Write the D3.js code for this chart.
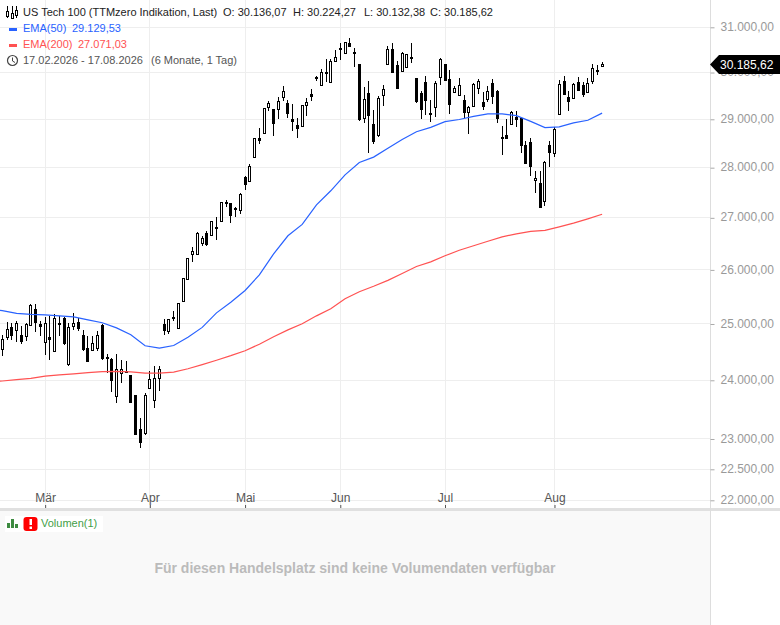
<!DOCTYPE html>
<html>
<head>
<meta charset="utf-8">
<script src="https://cdn.jsdelivr.net/npm/d3@7"></script>
<style>
  html, body { margin: 0; padding: 0; background: #fff; overflow: hidden; }
  svg { display: block; font-family: "Liberation Sans", Arial, sans-serif; }
</style>
</head>
<body>
<div id="chart"></div>
<script>
var opens = [24550,24757,24941,24882,24787,24775,24976,25271,24982,24674,24763,24509,25012,25099,24272,24953,25018,24787,24568,24526,24556,24970,24408,24372,23722,24124,24159,24077,23744,23165,23086,23864,23653,24030,24982,24870,25117,24923,
  25413,25815,26301,26301,26493,26691,26666,26819,26928,27299,27273,27193,27140,27808,27729,
  28206,28592,28710,29250,29214,29214,29463,29342,28986,28876,28848,29292,29535,29898,29720,30004,29791,30239,30520,30424,30645,30446,30166,29021,29556,28896,28661,29506,30181,30512,30158,30018,30107,30335,29877,29556,29791,
  29128,29257,29891,30166,29856,29570,29506,29392,29143,29271,29656,29364,29414,29770,29592,28627,28655,28890,29028,29021,28448,28524,27738,27672,27319,28462,28282,29107,29813,29471,29435,29791,29713,29570,29806,30048,30136.07];
var highs = [24805,25043,25012,25062,24964,25012,25360,25370,25062,25136,25148,25185,25148,25136,25012,25197,25105,24893,24787,24775,24882,25000,24467,24390,24467,24349,24331,24095,23750,23352,23778,24154,24243,24254,25086,25099,25228,25383,
  25850,26224,26435,26723,26640,26742,26934,27007,27306,27352,27273,27219,27485,27834,28070,
  28606,28813,29221,29378,29214,29470,29699,29399,29328,29021,29299,29449,29642,29925,30070,30291,30291,30483,30645,30660,30755,30534,30181,29684,29806,29200,29499,29735,30593,30645,30262,30446,30387,30645,29877,29606,29927,
  29414,29806,30313,30188,30055,29699,29877,29520,29285,29770,29870,29578,29699,29856,29620,28861,29007,29185,29185,29021,28551,28606,27938,27938,28145,28537,28834,29841,29927,29592,29770,29898,29784,29877,30180,30166,30224.27];
var lows = [24420,24716,24704,24668,24639,24686,24970,24864,24775,24449,24349,24500,24787,24615,24242,24893,24882,24509,24331,24509,24509,24360,24124,23790,23608,23949,24124,23608,23070,22858,23068,23847,23523,23807,24793,24822,25062,24923,
  25410,25802,26141,26295,26448,26448,26660,26576,26920,27206,26904,27020,27073,27541,27720,
  28200,28489,28710,29185,28655,29014,29378,29036,28745,28599,28840,29071,29392,29827,29699,29784,29785,30225,30276,30420,30556,30129,28971,28930,28296,28489,28627,29271,30175,29998,29642,30010,30092,30217,29342,29000,29093,
  28945,29057,29734,29827,29114,29565,29500,29021,28696,29265,29542,29200,29357,29328,28917,28262,28600,28890,28847,28296,28076,27834,27499,27200,27239,28021,28227,29100,29521,29185,29428,29613,29471,29565,29756,29954,30132.38];
var closes = [24716,24905,24793,25012,24686,24982,25346,25031,24959,25000,24722,25105,24994,24645,24941,25000,24911,24538,24331,24645,24799,24378,24384,23994,24195,24195,24136,23619,23074,22949,23744,24018,24036,24195,24882,25086,25093,25383,
  25845,26211,26346,26691,26608,26486,26934,26794,27306,27286,27040,27166,27465,27661,28020,
  28606,28565,29221,29328,28917,29385,29599,29128,28959,28807,29299,29364,29485,29870,30004,29982,30247,30335,30497,30660,30571,30424,28985,29428,29078,28537,29449,29642,30512,29998,29663,30424,30387,30306,29378,29200,29399,
  29100,29770,30276,29827,29314,29663,29713,29143,29257,29734,29813,29271,29599,29485,29021,28620,28600,29143,28993,28455,28090,28034,27785,27200,28110,28303,28779,29749,29528,29378,29734,29613,29528,29756,30092,30018,30185.62];

// EMA values read every 3rd bar
var emaBars = [-1,0,3,6,9,12,15,18,21,24,27,30,33,36,39,42,45,48,51,54,57,60,63,66,69,72,75,78,81,84,87,90,93,96,99,102,105,108,111,114,117,120,123,126];
var ema50 = [25250,25244,25194,25176,25166,25148,25130,25074,25022,24929,24805,24609,24565,24613,24760,24938,25203,25397,25615,25906,26305,26651,26871,27255,27535,27854,28105,28215,28397,28576,28738,28831,28950,28996,29060,29113,29113,29077,28955,28826,28841,28924,28980,29129.53];
var ema200 = [23983,23988,24011,24032,24073,24094,24112,24133,24151,24155,24148,24126,24126,24142,24201,24275,24352,24432,24520,24636,24769,24893,25004,25148,25278,25462,25591,25693,25804,25933,26065,26152,26267,26372,26459,26545,26631,26689,26737,26756,26823,26896,26980,27071.03];

var priceTicks = [31000,30000,29000,28000,27000,26000,25000,24000,23000,22500,22000];
var monthBars = [9,31,51,71,93,116];
var monthNames = ["Mär","Apr","Mai","Jun","Jul","Aug"];

var W = 780, H = 625, plotR = 710, plotB = 508;
var fmt = d3.formatLocale({decimal: ",", thousands: ".", grouping: [3], currency: ["", ""]}).format(",.2f");

var svg = d3.select("#chart").append("svg").attr("width", W).attr("height", H);
var x = d3.scaleLinear().domain([0, 126]).range([2.3, 602.1]);
var y = d3.scaleLog().domain([22000, 31000]).range([500.3, 27.3]);
function snap(v) { return Math.floor(v) + 0.5; }

svg.append("clipPath").attr("id", "plot").append("rect").attr("width", plotR).attr("height", plotB);

// volume panel
svg.append("rect").attr("x", 0).attr("y", plotB).attr("width", plotR).attr("height", H - plotB).attr("fill", "#f9f9f9");
svg.append("rect").attr("x", plotR).attr("y", plotB).attr("width", W - plotR).attr("height", H - plotB).attr("fill", "#fff");

// grid
var grid = svg.append("g");
priceTicks.forEach(function (p) {
  grid.append("line").attr("x1", 0).attr("x2", plotR).attr("y1", snap(y(p))).attr("y2", snap(y(p))).attr("stroke", "#eeeeee");
});
monthBars.forEach(function (b) {
  grid.append("line").attr("x1", snap(x(b))).attr("x2", snap(x(b))).attr("y1", 0).attr("y2", plotB).attr("stroke", "#eeeeee");
});

// candles
var bars = d3.range(closes.length);
var candles = svg.append("g").attr("clip-path", "url(#plot)").selectAll("g").data(bars).enter().append("g");
candles.append("line")
  .attr("x1", function (i) { return snap(x(i)); })
  .attr("x2", function (i) { return snap(x(i)); })
  .attr("y1", function (i) { return Math.round(y(highs[i])); })
  .attr("y2", function (i) { return Math.round(y(lows[i])); })
  .attr("stroke", "#000");
candles.append("rect")
  .attr("x", function (i) { return snap(x(i)) - 1; })
  .attr("width", 2)
  .attr("y", function (i) { return snap(y(Math.max(opens[i], closes[i]))); })
  .attr("height", function (i) { return Math.max(1, snap(y(Math.min(opens[i], closes[i]))) - snap(y(Math.max(opens[i], closes[i])))); })
  .attr("fill", function (i) { return closes[i] >= opens[i] ? "#fff" : "#000"; })
  .attr("stroke", "#000");

// moving averages
var emaLine = function (vals) {
  return d3.line().x(function (d, k) { return x(emaBars[k]); }).y(function (d) { return y(d); })(vals);
};
svg.append("path").attr("clip-path", "url(#plot)").attr("d", emaLine(ema200)).attr("fill", "none").attr("stroke", "#ff5252").attr("stroke-width", 1.2);
svg.append("path").attr("clip-path", "url(#plot)").attr("d", emaLine(ema50)).attr("fill", "none").attr("stroke", "#2962ff").attr("stroke-width", 1.2);

// band between panels
svg.append("rect").attr("x", 0).attr("y", plotB).attr("width", W).attr("height", 3).attr("fill", "#e0e0e0");
svg.append("line").attr("x1", plotR + 0.5).attr("x2", plotR + 0.5).attr("y1", 0).attr("y2", H).attr("stroke", "#dddddd");

// price axis
var yAxis = svg.append("g").attr("transform", "translate(" + (plotR + 0.5) + ",0)")
  .call(d3.axisRight(y).tickValues(priceTicks).tickFormat(fmt).tickSize(4).tickPadding(6));
yAxis.select(".domain").remove();
yAxis.selectAll("line").attr("stroke", "#aaaaaa");
yAxis.selectAll("text").attr("dy", "0.26em").attr("fill", "#999999").style("font-size", "12px").style("font-family", "inherit");

// month axis
var xAxis = svg.append("g").attr("transform", "translate(0,505)")
  .call(d3.axisBottom(x).tickValues(monthBars).tickFormat(function (d, k) { return monthNames[k]; }).tickSize(3));
xAxis.select(".domain").remove();
xAxis.selectAll("line").attr("stroke", "#555555");
xAxis.selectAll("text").attr("y", -12).attr("fill", "#555555").style("font-size", "12px").style("font-family", "inherit");

// last price tag
var lastY = snap(y(closes[closes.length - 1]));
svg.append("path").attr("d", "M710," + lastY + "L719," + (lastY - 9.5) + "H780V" + (lastY + 9.5) + "H719Z").attr("fill", "#000");
svg.append("text").attr("x", 720).attr("y", lastY + 4.5).attr("fill", "#fff").style("font-size", "12px").text(fmt(closes[closes.length - 1]));

// legend
var n = closes.length - 1;
var legend = svg.append("g").style("font-size", "11px");
legend.append("path").attr("d", "M7.5,8V20M12.5,8V20M16.5,8V20").attr("stroke", "#000").attr("stroke-width", 1).attr("transform", "translate(0,-2)");
[[7.5, 11, 5], [12.5, 13, 5], [16.5, 10, 5]].forEach(function (b) {
  legend.append("rect").attr("x", b[0] - 1).attr("y", b[1] + 0.5).attr("width", 2).attr("height", b[2]).attr("fill", "#fff").attr("stroke", "#000");
});
legend.append("text").attr("x", 23).attr("y", 16).attr("fill", "#222").text("US Tech 100 (TTMzero Indikation, Last)");
legend.append("text").attr("x", 223).attr("y", 16).attr("fill", "#222").text("O: " + fmt(opens[n]));
legend.append("text").attr("x", 293).attr("y", 16).attr("fill", "#222").text("H: " + fmt(highs[n]));
legend.append("text").attr("x", 364).attr("y", 16).attr("fill", "#222").text("L: " + fmt(lows[n]));
legend.append("text").attr("x", 430).attr("y", 16).attr("fill", "#222").text("C: " + fmt(closes[n]));

legend.append("rect").attr("x", 9).attr("y", 28).attr("width", 8).attr("height", 3).attr("fill", "#2962ff");
legend.append("text").attr("x", 23).attr("y", 32).attr("fill", "#2962ff").text("EMA(50)");
legend.append("text").attr("x", 72).attr("y", 32).attr("fill", "#2962ff").text(fmt(ema50[ema50.length - 1]));
legend.append("rect").attr("x", 9).attr("y", 44).attr("width", 8).attr("height", 3).attr("fill", "#ff5252");
legend.append("text").attr("x", 23).attr("y", 48).attr("fill", "#ff5252").text("EMA(200)");
legend.append("text").attr("x", 78).attr("y", 48).attr("fill", "#ff5252").text(fmt(ema200[ema200.length - 1]));

legend.append("circle").attr("cx", 12.5).attr("cy", 60.5).attr("r", 5).attr("fill", "none").attr("stroke", "#444").attr("stroke-width", 1.2);
legend.append("path").attr("d", "M12.5,57.5V61L15,62.5").attr("fill", "none").attr("stroke", "#444");
legend.append("text").attr("x", 23).attr("y", 64).attr("fill", "#555").text("17.02.2026 - 17.08.2026");
legend.append("text").attr("x", 151).attr("y", 64).attr("fill", "#555").text("(6 Monate, 1 Tag)");

// volume legend
svg.append("rect").attr("x", 5).attr("y", 516).attr("width", 98).attr("height", 16).attr("fill", "#fff");
[[7, 523, 3, 5], [11, 519, 3, 9], [15, 524, 3, 4]].forEach(function (b) {
  svg.append("rect").attr("x", b[0]).attr("y", b[1]).attr("width", b[2]).attr("height", b[3]).attr("fill", "#3d8b40");
});
svg.append("rect").attr("x", 23.5).attr("y", 517).attr("width", 14).attr("height", 14).attr("rx", 3).attr("fill", "#f00");
svg.append("rect").attr("x", 29.5).attr("y", 519).attr("width", 2.5).attr("height", 6).attr("fill", "#fff");
svg.append("rect").attr("x", 29.5).attr("y", 526.5).attr("width", 2.5).attr("height", 2.5).attr("fill", "#fff");
svg.append("text").attr("x", 41).attr("y", 527).attr("fill", "#43a047").style("font-size", "11px").text("Volumen(1)");

svg.append("text").attr("x", 355).attr("y", 573).attr("text-anchor", "middle").attr("fill", "#bbbbbb")
  .style("font-size", "14px").style("font-weight", "bold").text("Für diesen Handelsplatz sind keine Volumendaten verfügbar");
</script>
</body>
</html>
